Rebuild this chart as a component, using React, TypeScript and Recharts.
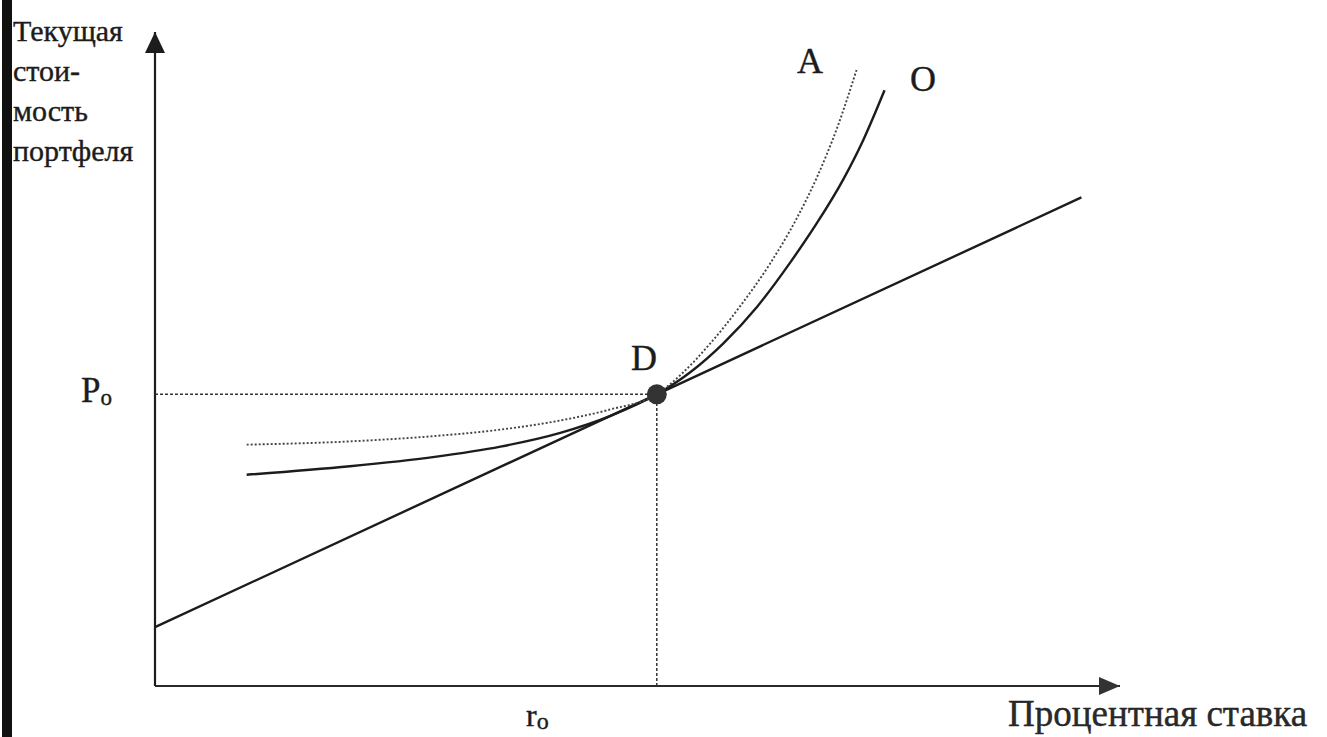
import React from 'react'
import { ComposedChart, Line, XAxis, YAxis, ReferenceLine, ReferenceDot } from 'recharts'

// x: interest rate, y: present value of the portfolio (arbitrary units)
const RATE_DOMAIN = [0, 100]
const VALUE_DOMAIN = [0, 100]

// point D: current rate r0 and current value P0
const R0 = 52
const P0 = 44.6

// straight tangent line through D
const tangentRates = [0, 52, 96]
const tangentValues = [9.0, 44.6, 74.7]

// curve O (solid)
const curveORates = [9.5, 20.2, 28.8, 35.8, 42.0, 47.2, 52.0, 55.4, 58.9, 62.4, 65.8, 68.6, 71.3, 73.4, 75.6]
const curveOValues = [32.3, 33.6, 35.0, 36.6, 38.7, 41.3, 44.6, 47.9, 52.4, 58.0, 64.7, 70.8, 77.4, 83.5, 91.1]

// curve A (dotted)
const curveARates = [9.5, 20.2, 28.8, 35.8, 42.0, 47.2, 52.0, 54.7, 57.5, 60.6, 63.7, 66.5, 68.6, 70.7, 72.7]
const curveAValues = [36.9, 37.4, 38.2, 39.2, 40.6, 42.3, 44.6, 47.9, 52.3, 58.0, 64.5, 71.5, 77.8, 85.4, 94.2]

const yTitle = ['Текущая', 'стои-', 'мость', 'портфеля']
const xTitle = 'Процентная ставка'

const toPoints = (xs: number[], ys: number[]) => xs.map((x, i) => ({ x, y: ys[i] }))

const SERIF = '"Liberation Serif", "DejaVu Serif", serif'
const INK = '#1c1c1c'

const ArrowUp = (props: any) => {
  const { cx, cy } = props
  return <polygon points={`${cx},${cy} ${cx - 10},${cy + 21} ${cx + 10},${cy + 21}`} fill={INK} />
}

const ArrowRight = (props: any) => {
  const { cx, cy } = props
  return <polygon points={`${cx},${cy} ${cx - 21},${cy - 9} ${cx - 21},${cy + 9}`} fill="#333" />
}

const txt = (left: number, top: number, size: number, extra: React.CSSProperties = {}): React.CSSProperties => ({
  position: 'absolute',
  left,
  top,
  fontFamily: SERIF,
  fontSize: size,
  lineHeight: 1,
  color: INK,
  WebkitTextStroke: '0.4px #1c1c1c',
  whiteSpace: 'nowrap',
  ...extra,
})

export default function App() {
  const tangent = toPoints(tangentRates, tangentValues)
  const curveO = toPoints(curveORates, curveOValues)
  const curveA = toPoints(curveARates, curveAValues)

  return (
    <div style={{ position: 'relative', width: 1327, height: 737, background: '#fff', overflow: 'hidden' }}>
      <style>{'body{margin:0}'}</style>
      {/* dark page edge */}
      <div style={{ position: 'absolute', left: 2, top: 0, width: 10, height: 737, background: '#111' }} />

      <ComposedChart
        width={1327}
        height={737}
        margin={{ top: 32, right: 207, bottom: 51, left: 155 }}
      >
        <XAxis type="number" dataKey="x" domain={RATE_DOMAIN} hide allowDuplicatedCategory={false} />
        <YAxis type="number" dataKey="y" domain={VALUE_DOMAIN} hide />

        {/* axes */}
        <ReferenceLine segment={[{ x: 0, y: 0 }, { x: 100, y: 0 }]} stroke="#2a2a2a" strokeWidth={2.2} ifOverflow="visible" />
        <ReferenceLine segment={[{ x: 0, y: 0 }, { x: 0, y: 100 }]} stroke={INK} strokeWidth={2.2} ifOverflow="visible" />

        {/* guides to P0 and r0 */}
        <ReferenceLine segment={[{ x: 0, y: P0 }, { x: R0, y: P0 }]} stroke="#333" strokeWidth={1.5} strokeDasharray="3 2" ifOverflow="visible" />
        <ReferenceLine segment={[{ x: R0, y: 0 }, { x: R0, y: P0 }]} stroke="#333" strokeWidth={1.5} strokeDasharray="3 2" ifOverflow="visible" />

        <Line data={tangent} dataKey="y" type="linear" stroke={INK} strokeWidth={2.4} dot={false} isAnimationActive={false} />
        <Line data={curveO} dataKey="y" type="monotone" stroke={INK} strokeWidth={2.4} dot={false} isAnimationActive={false} />
        <Line data={curveA} dataKey="y" type="monotone" stroke="#444" strokeWidth={1.9} strokeDasharray="2 2" dot={false} isAnimationActive={false} />

        <ReferenceDot x={0} y={100} r={1} shape={ArrowUp} ifOverflow="visible" />
        <ReferenceDot x={100} y={0} r={1} shape={ArrowRight} ifOverflow="visible" />
        <ReferenceDot x={R0} y={P0} r={10} fill="#333" stroke="none" ifOverflow="visible" />
      </ComposedChart>

      {/* vertical axis title */}
      {yTitle.map((line, i) => (
        <div key={line} style={txt(13, 16 + i * 40, 30)}>{line}</div>
      ))}

      {/* horizontal axis title */}
      <div style={txt(1008, 695, 37, { color: '#2a2a2a' })}>{xTitle}</div>

      {/* level and rate labels */}
      <div style={txt(81, 373, 35)}>
        P<span style={{ fontSize: 23, position: 'relative', top: 3 }}>o</span>
      </div>
      <div style={txt(526, 699, 32)}>
        r<span style={{ fontSize: 24, position: 'relative', top: 3 }}>o</span>
      </div>

      {/* curve and point names */}
      <div style={txt(797, 43, 36)}>A</div>
      <div style={txt(910, 61, 36)}>O</div>
      <div style={txt(631, 340, 36)}>D</div>
    </div>
  )
}
